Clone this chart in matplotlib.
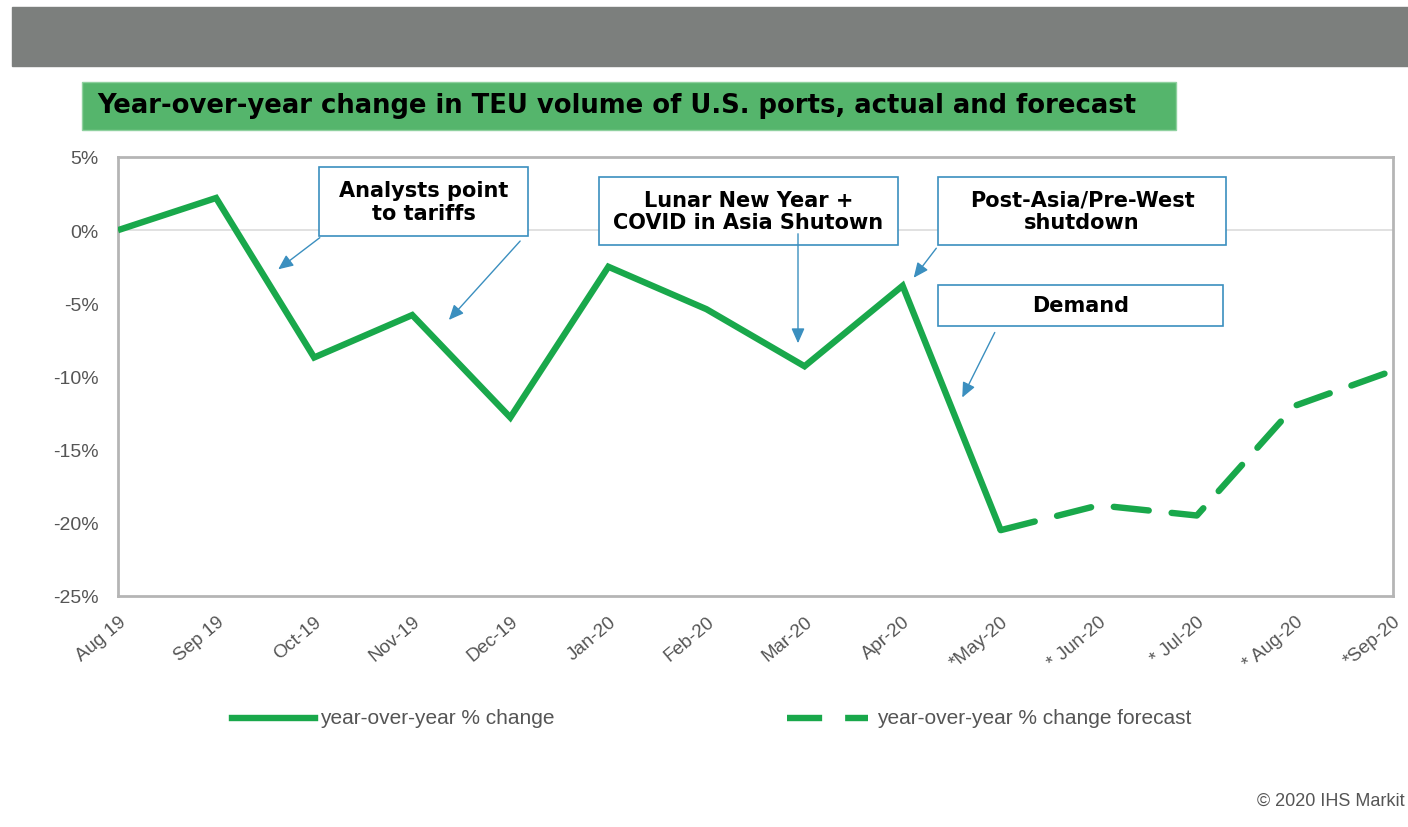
import matplotlib
matplotlib.use("Agg")
import matplotlib.pyplot as plt
from matplotlib.patches import Rectangle, FancyArrowPatch
from matplotlib.lines import Line2D

# --- data ---
months = ["Aug-19", "Sep-19", "Oct-19", "Nov-19", "Dec-19", "Jan-20", "Feb-20",
          "Mar-20", "Apr-20", "May-20", "Jun-20", "Jul-20", "Aug-20", "Sep-20"]
tick_labels = ["Aug 19", "Sep 19", "Oct-19", "Nov-19", "Dec-19", "Jan-20", "Feb-20",
               "Mar-20", "Apr-20", "*May-20", "* Jun-20", "* Jul-20", "* Aug-20", "*Sep-20"]
actual = [0.0, 2.2, -8.7, -5.8, -12.8, -2.5, -5.4, -9.3, -3.8, -20.5]
forecast = [-20.5, -18.8, -19.5, -12.0, -9.6]
forecast_start = 9
yticks = [5, 0, -5, -10, -15, -20, -25]

W, H = 1408, 828
GREEN = "#19a84b"
BLUE = "#3b8fbf"
GRAYTXT = "#555555"

fig = plt.figure(figsize=(W / 100, H / 100), dpi=100)
fig.patch.set_facecolor("white")


def fx(x):
    return x / W


def fy(y):
    return 1 - y / H


# gray header bar
fig.patches.append(Rectangle((fx(12), fy(67)), fx(W - 12), 59 / H,
                             transform=fig.transFigure, color="#7c7f7d", zorder=0))

# green title box
fig.patches.append(Rectangle((fx(82), fy(131)), fx(1094), 48 / H,
                             transform=fig.transFigure, facecolor="#55b56c",
                             edgecolor="#8fd19f", lw=1, zorder=1))
fig.text(fx(97), fy(106), "Year-over-year change in TEU volume of U.S. ports, actual and forecast",
         fontsize=18.6, fontweight="bold", color="black", va="center", ha="left")

# axes
ax = fig.add_axes([fx(118), fy(597), fx(1393 - 118), (597 - 158) / H])
x = list(range(len(months)))
ax.plot(x[:forecast_start + 1], actual, color=GREEN, lw=4.6,
        solid_joinstyle="miter", solid_capstyle="butt", zorder=3)
ax.plot(x[forecast_start:], forecast, color=GREEN, lw=4.6,
        dashes=(5.5, 3.6), dash_capstyle="round", zorder=3)

ax.set_xlim(0, len(months) - 1)
ax.set_ylim(-25, 5)
ax.set_yticks(yticks)
ax.set_yticklabels([f"{v}%" for v in yticks])
ax.set_xticks(x)
ax.set_xticklabels(tick_labels, rotation=40, ha="right", rotation_mode="anchor")
ax.tick_params(axis="y", length=0, labelsize=14, labelcolor=GRAYTXT, pad=14)
ax.tick_params(axis="x", length=0, labelsize=13.5, labelcolor=GRAYTXT, pad=12)
for lbl in ax.get_xticklabels() + ax.get_yticklabels():
    lbl.set_family("Liberation Sans")
ax.axhline(0, color="#dcdcdc", lw=1.2, zorder=1)
for s in ax.spines.values():
    s.set_color("#b5b5b5")
    s.set_linewidth(2)

# annotation boxes with arrows (pixel positions)
boxes = [
    ("Analysts point\nto tariffs", 319, 168, 528, 237),
    ("Lunar New Year +\nCOVID in Asia Shutown", 599, 178, 898, 246),
    ("Post-Asia/Pre-West\nshutdown", 938, 178, 1226, 246),
    ("Demand", 938, 286, 1223, 327),
]
for text, x0, y0, x1, y1 in boxes:
    fig.patches.append(Rectangle((fx(x0), fy(y1)), fx(x1 - x0), (y1 - y0) / H,
                                 transform=fig.transFigure, facecolor="white",
                                 edgecolor=BLUE, lw=1.2, zorder=5))
    fig.text(fx((x0 + x1) / 2), fy((y0 + y1) / 2), text, ha="center", va="center",
             fontsize=15, fontweight="bold", color="black", linespacing=1.15, zorder=6)

arrows = [
    ((322, 237), (276, 272)),
    ((522, 240), (447, 323)),
    ((798, 232), (798, 347)),
    ((938, 247), (912, 281)),
    ((996, 331), (961, 401)),
]
for (sx, sy), (ex, ey) in arrows:
    fig.add_artist(FancyArrowPatch(
        (fx(sx), fy(sy)), (fx(ex), fy(ey)), transform=fig.transFigure,
        arrowstyle="-|>,head_length=9,head_width=4", mutation_scale=1,
        color=BLUE, lw=1, zorder=7))

# legend
fig.add_artist(Line2D([fx(232), fx(315)], [fy(719), fy(719)], transform=fig.transFigure,
                      color=GREEN, lw=4.6))
fig.text(fx(320), fy(719), "year-over-year % change", fontsize=15, color=GRAYTXT,
         va="center", family="Liberation Sans")
fig.add_artist(Line2D([fx(787), fx(868)], [fy(719), fy(719)], transform=fig.transFigure,
                      color=GREEN, lw=4.6, dashes=(5.5, 3.6)))
fig.text(fx(877), fy(719), "year-over-year % change forecast", fontsize=15, color=GRAYTXT,
         va="center", family="Liberation Sans")

fig.text(fx(1405), fy(801), "© 2020 IHS Markit", fontsize=13, color=GRAYTXT,
         va="center", ha="right", family="Liberation Sans")

fig.savefig("out.png", dpi=100)
